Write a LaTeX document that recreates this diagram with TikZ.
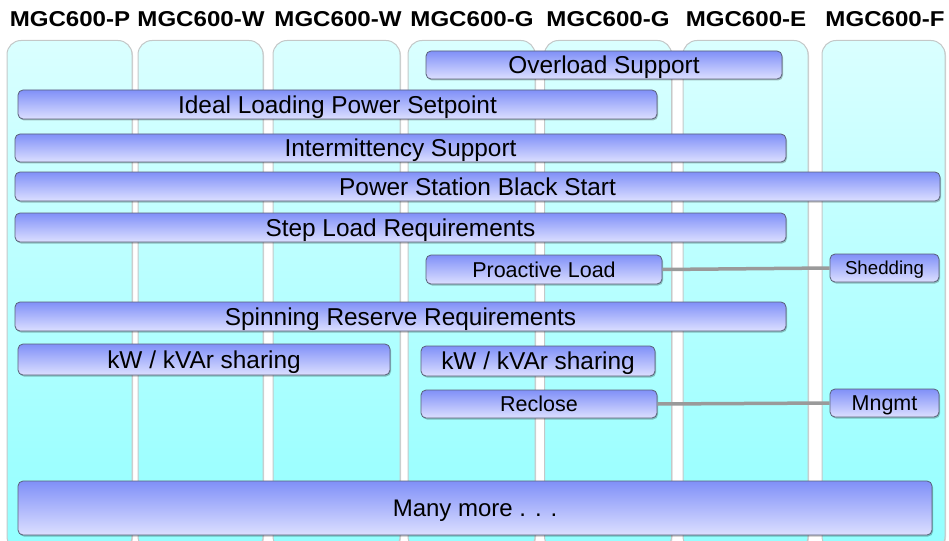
\documentclass[tikz,border=0pt]{standalone}
\usepackage{fontspec}
\setmainfont{Liberation Sans}
\newfontfamily\headfont[FakeStretch=1.12]{Liberation Sans}
\usetikzlibrary{shadows}
\definecolor{colTop}{HTML}{DAFFFF}
\definecolor{colBot}{HTML}{92FFFF}
\definecolor{barTop}{HTML}{8090F8}
\definecolor{barBot}{HTML}{DCDFFF}
\definecolor{barLine}{HTML}{5A6078}
\definecolor{colLine}{HTML}{C4C8C8}
\definecolor{linkGrey}{HTML}{9A9A9A}
\tikzset{
  column/.style={draw=colLine, line width=1pt, rounded corners=14pt,
    top color=colTop, bottom color=colBot, minimum height=510pt,
    anchor=north, inner sep=0pt,
    drop shadow={shadow xshift=1pt, shadow yshift=-1pt, fill=black, opacity=0.15}},
  header/.style={font=\fontsize{21.5}{24}\headfont\bfseries, inner sep=0pt},
  bar/.style={draw=barLine, line width=0.8pt, rounded corners=5pt,
    top color=barTop, bottom color=barBot, inner sep=0pt, text=black,
    font=\fontsize{24.4}{28}\selectfont, text height=17.5pt, text depth=0pt,
    drop shadow={shadow xshift=1pt, shadow yshift=-1.5pt, fill=black, opacity=0.25}},
  smallbar/.style={bar, font=\fontsize{21.5}{25}\selectfont, text height=15.4pt},
  tinybar/.style={bar, font=\fontsize{18.7}{22}\selectfont, text height=13.4pt},
  link/.style={draw=linkGrey, line width=3.5pt},
}
\begin{document}
\begin{tikzpicture}[x=1pt,y=-1pt]
\useasboundingbox (0,0) rectangle (949,540);
\clip (0,0) rectangle (949,540);
% columns
\node[column, minimum width=125pt] (c1) at (69.5,40) {};
\node[column, minimum width=125pt] (c2) at (200.5,40) {};
\node[column, minimum width=127pt] (c3) at (336.5,40) {};
\node[column, minimum width=127pt] (c4) at (471.5,40) {};
\node[column, minimum width=127pt] (c5) at (608,40) {};
\node[column, minimum width=125pt] (c6) at (745.5,40) {};
\node[column, minimum width=123pt] (c7) at (883.5,40) {};
% headers
\node[header] (h1) at (70,19) {MGC600-P};
\node[header] (h2) at (201,19) {MGC600-W};
\node[header] (h3) at (338,19) {MGC600-W};
\node[header] (h4) at (472,19) {MGC600-G};
\node[header] (h5) at (608,19) {MGC600-G};
\node[header] (h6) at (746,19) {MGC600-E};
\node[header] (h7) at (885,19) {MGC600-F};
% bars
\node[bar, minimum width=356pt, minimum height=28pt] (over) at (604,65) {Overload Support};
\node[bar, minimum width=639pt, minimum height=29pt] (ideal) at (337.5,104.5) {Ideal Loading Power Setpoint};
\node[bar, minimum width=771pt, minimum height=28pt] (inter) at (400.5,148) {Intermittency Support};
\node[bar, minimum width=925pt, minimum height=29pt] (black) at (477.5,186.5) {Power Station Black Start};
\node[bar, minimum width=771pt, minimum height=29pt] (steplr) at (400.5,227.5) {Step Load Requirements};
\node[smallbar, minimum width=236pt, minimum height=29pt] (proact) at (544,269.5) {Proactive Load};
\node[tinybar, minimum width=109pt, minimum height=28pt] (shed) at (884.5,268) {Shedding};
\node[bar, minimum width=771pt, minimum height=29pt] (spin) at (400.5,316.5) {Spinning Reserve Requirements};
\node[bar, minimum width=372pt, minimum height=31pt] (kwl) at (204,359.5) {kW / kVAr sharing};
\node[bar, minimum width=234pt, minimum height=30pt] (kwr) at (538,361) {kW / kVAr sharing};
\node[smallbar, minimum width=236pt, minimum height=28pt] (reclose) at (539,404) {Reclose};
\node[smallbar, minimum width=109pt, minimum height=28pt] (mngmt) at (884.5,403) {Mngmt};
\node[bar, minimum width=914pt, minimum height=54pt, font=\fontsize{24}{28}\selectfont, text height=17.2pt] (many) at (475,508) {Many more . . .};
% connectors
\draw[link] (proact.east) -- (shed.west);
\draw[link] (reclose.east) -- (mngmt.west);
\end{tikzpicture}
\end{document}
